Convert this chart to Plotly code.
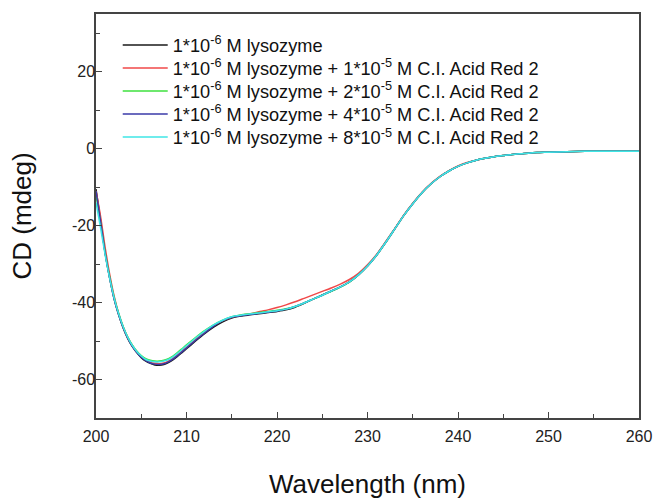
import plotly.graph_objects as go

wavelength = [200, 200.5, 201, 201.5, 202, 202.5, 203, 203.5, 204, 204.5, 205, 205.5, 206, 206.5, 207, 207.5,
              208, 208.5, 209, 209.5, 210, 211, 212, 213, 214, 215, 216, 217, 218, 219, 220, 221, 222, 223,
              224, 225, 226, 227, 228, 229, 230, 231, 232, 233, 234, 235, 236, 237, 238, 239, 240, 241, 242,
              243, 244, 245, 246, 247, 248, 249, 250, 252, 254, 256, 258, 260]

cd_lysozyme = [-10.5, -18.5, -27.0, -33.5, -39.0, -43.2, -46.6, -49.3, -51.4, -53.0, -54.3, -55.2, -55.8, -56.2,
               -56.3, -56.1, -55.6, -54.9, -54.0, -53.0, -52.0, -50.0, -48.1, -46.4, -45.0, -44.0, -43.5, -43.2,
               -42.9, -42.6, -42.3, -41.9, -41.2, -40.2, -39.1, -38.0, -37.0, -35.9, -34.6, -32.8, -30.5, -27.7,
               -24.4, -20.9, -17.4, -14.3, -11.5, -9.2, -7.3, -5.8, -4.6, -3.7, -3.0, -2.5, -2.1, -1.8, -1.5,
               -1.3, -1.1, -1.0, -0.9, -0.8, -0.7, -0.7, -0.7, -0.7]

cd_red_1 = [-11.0, -17.5, -25.5, -32.5, -38.3, -42.8, -46.3, -49.0, -51.1, -52.7, -54.0, -54.9, -55.5, -55.8,
            -55.9, -55.7, -55.2, -54.5, -53.6, -52.6, -51.6, -49.6, -47.7, -46.0, -44.7, -43.8, -43.3, -42.9,
            -42.4, -41.9, -41.3, -40.6, -39.8, -38.9, -38.0, -37.1, -36.2, -35.2, -34.0, -32.4, -30.2, -27.5,
            -24.2, -20.8, -17.3, -14.2, -11.4, -9.1, -7.2, -5.7, -4.5, -3.6, -3.0, -2.5, -2.1, -1.8, -1.5,
            -1.3, -1.1, -1.0, -0.9, -0.8, -0.7, -0.7, -0.7, -0.7]

cd_red_2 = [-12.0, -19.0, -26.8, -33.2, -38.6, -42.8, -46.2, -48.9, -51.0, -52.6, -53.8, -54.6, -55.0, -55.2,
            -55.2, -55.0, -54.6, -53.9, -53.0, -52.0, -51.0, -49.1, -47.3, -45.8, -44.6, -43.7, -43.2, -42.9,
            -42.6, -42.3, -42.0, -41.6, -41.0, -40.1, -39.1, -38.1, -37.1, -36.0, -34.7, -32.8, -30.5, -27.7,
            -24.4, -20.9, -17.4, -14.3, -11.5, -9.2, -7.3, -5.8, -4.6, -3.7, -3.0, -2.5, -2.1, -1.8, -1.5,
            -1.3, -1.1, -1.0, -0.9, -0.8, -0.7, -0.7, -0.7, -0.7]

cd_red_4 = [-11.0, -18.8, -27.0, -33.5, -39.0, -43.1, -46.5, -49.2, -51.3, -52.9, -54.2, -55.1, -55.7, -56.0,
            -56.1, -55.9, -55.4, -54.7, -53.8, -52.8, -51.8, -49.8, -47.9, -46.1, -44.7, -43.8, -43.4, -43.1,
            -42.8, -42.5, -42.2, -41.7, -41.0, -40.1, -39.1, -38.1, -37.0, -35.9, -34.6, -32.8, -30.5, -27.7,
            -24.4, -20.9, -17.4, -14.3, -11.5, -9.2, -7.3, -5.8, -4.6, -3.7, -3.0, -2.5, -2.1, -1.8, -1.5,
            -1.3, -1.1, -1.0, -0.9, -0.8, -0.7, -0.7, -0.7, -0.7]

cd_red_8 = [-14.0, -20.5, -27.5, -33.6, -38.8, -42.9, -46.3, -49.0, -51.1, -52.7, -53.9, -54.8, -55.2, -55.4,
            -55.4, -55.2, -54.8, -54.1, -53.2, -52.2, -51.2, -49.2, -47.4, -45.8, -44.6, -43.7, -43.3, -43.0,
            -42.7, -42.4, -42.1, -41.7, -41.0, -40.1, -39.1, -38.1, -37.0, -35.9, -34.6, -32.8, -30.5, -27.7,
            -24.4, -20.9, -17.4, -14.3, -11.5, -9.2, -7.3, -5.8, -4.6, -3.7, -3.0, -2.5, -2.1, -1.8, -1.5,
            -1.3, -1.1, -1.0, -0.9, -0.8, -0.7, -0.7, -0.7, -0.7]

series_names = [
    "1*10<sup>-6</sup> M lysozyme",
    "1*10<sup>-6</sup> M lysozyme + 1*10<sup>-5</sup> M C.I. Acid Red 2",
    "1*10<sup>-6</sup> M lysozyme + 2*10<sup>-5</sup> M C.I. Acid Red 2",
    "1*10<sup>-6</sup> M lysozyme + 4*10<sup>-5</sup> M C.I. Acid Red 2",
    "1*10<sup>-6</sup> M lysozyme + 8*10<sup>-5</sup> M C.I. Acid Red 2",
]
series_values = [cd_lysozyme, cd_red_1, cd_red_2, cd_red_4, cd_red_8]
series_colors = ["#1a1a1a", "#f04848", "#3ee03e", "#3a3aa8", "#3fe6e6"]

x_ticks = [200, 210, 220, 230, 240, 250, 260]
x_tick_labels = ["200", "210", "220", "230", "240", "250", "260"]
y_ticks = [-60, -40, -20, 0, 20]
y_tick_labels = ["-60", "-40", "-20", "0", "20"]

font_family = "Arial, 'Liberation Sans', sans-serif"

# one legend per row so the row spacing can follow the reference
legend_rows_y = [0.923, 0.866, 0.809, 0.752, 0.695]
legend_ids = ["legend", "legend2", "legend3", "legend4", "legend5"]

fig = go.Figure()
for name, vals, col, lid in zip(series_names, series_values, series_colors, legend_ids):
    fig.add_trace(go.Scatter(x=wavelength, y=vals, mode="lines", name=name, legend=lid, showlegend=True,
                             line=dict(color=col, width=1.5, shape="spline", smoothing=0.6)))

axis_common = dict(showline=True, linecolor="#444", linewidth=1.5, mirror=True,
                   ticks="inside", ticklen=6, tickwidth=1.2, tickcolor="#444",
                   showgrid=False, zeroline=False, automargin=False,
                   tickfont=dict(family=font_family, size=16, color="#222"))

fig.update_xaxes(range=[200, 260], tickvals=x_ticks, ticktext=x_tick_labels, ticklabelstandoff=3,
                 minor=dict(ticks="inside", dtick=5, ticklen=4, tickcolor="#444", tickwidth=1),
                 title=dict(text="Wavelength (nm)", font=dict(family=font_family, size=26, color="#111"), standoff=31),
                 **axis_common)
fig.update_yaxes(range=[-70, 35], tickvals=y_ticks, ticktext=y_tick_labels, ticklabelstandoff=-4,
                 minor=dict(ticks="inside", tickvals=[-70, -50, -30, -10, 10, 30], ticklen=4, tickcolor="#444", tickwidth=1),
                 title=dict(text="CD (mdeg)", font=dict(family=font_family, size=26, color="#111"), standoff=33),
                 **axis_common)

legend_style = dict(x=0.04, xanchor="left", yanchor="middle", bgcolor="rgba(0,0,0,0)",
                    font=dict(family=font_family, size=18.2, color="#111"), itemwidth=45)
layout_legends = {lid: dict(y=ly, **legend_style) for lid, ly in zip(legend_ids, legend_rows_y)}

fig.update_layout(
    width=655, height=499,
    showlegend=True,
    margin=dict(l=96, r=16, t=14, b=81),
    plot_bgcolor="white", paper_bgcolor="white",
    **layout_legends,
)

fig.write_html("out.html", config={"displayModeBar": False},
               post_script="document.body.style.margin='0';")
